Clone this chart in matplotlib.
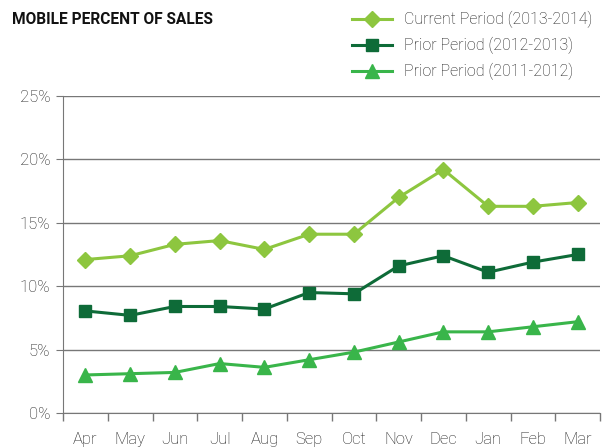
import matplotlib.pyplot as plt
from matplotlib.ticker import FixedLocator, PercentFormatter

months = ["Apr", "May", "Jun", "Jul", "Aug", "Sep", "Oct", "Nov", "Dec", "Jan", "Feb", "Mar"]
current = [12.1, 12.4, 13.3, 13.6, 12.9, 14.1, 14.1, 17.0, 19.2, 16.3, 16.3, 16.6]
prior_1213 = [8.05, 7.7, 8.4, 8.4, 8.2, 9.5, 9.4, 11.6, 12.4, 11.1, 11.9, 12.5]
prior_1112 = [3.0, 3.1, 3.2, 3.9, 3.6, 4.2, 4.8, 5.6, 6.4, 6.4, 6.8, 7.2]

plt.rcParams["font.family"] = ["Roboto", "DejaVu Sans"]
plt.rcParams["font.weight"] = "light"

fig = plt.figure(figsize=(6.04, 4.48), dpi=100)
ax = fig.add_axes([63 / 604, 1 - 413 / 448, 537 / 604, 317 / 448])

x = range(len(months))
ax.plot(x, current, color="#8dc63f", lw=2.2, marker="D", ms=8, label="Current Period (2013-2014)")
ax.plot(x, prior_1213, color="#0e6b38", lw=2.2, marker="s", ms=9, label="Prior Period (2012-2013)")
ax.plot(x, prior_1112, color="#39b54a", lw=2.2, marker="^", ms=10, label="Prior Period (2011-2012)")

ax.set_xlim(-0.5, len(months) - 0.5)
ax.set_ylim(0, 25)
ax.set_yticks(range(0, 26, 5))
ax.yaxis.set_major_formatter(PercentFormatter(decimals=0))
ax.yaxis.grid(True, color="#777777", lw=1)
ax.set_axisbelow(True)

ax.set_xticks(list(x))
ax.set_xticklabels(months)
ax.xaxis.set_minor_locator(FixedLocator([i - 0.5 for i in range(len(months) + 1)]))
ax.tick_params(axis="x", which="major", length=0, pad=14, labelsize=12, labelcolor="#1a1a1a")
ax.tick_params(axis="x", which="minor", length=6, color="#777777", width=1)
ax.tick_params(axis="y", length=5, color="#777777", labelsize=12, labelcolor="#1a1a1a", pad=4)

for s in ["top", "right"]:
    ax.spines[s].set_visible(False)
for s in ["left", "bottom"]:
    ax.spines[s].set_color("#777777")

fig.text(12 / 604, 1 - 20 / 448, "MOBILE PERCENT OF SALES", fontsize=11.2, fontweight="bold",
         va="center", ha="left", color="#111111")

fig.legend(loc="upper right", bbox_to_anchor=(1.0, 1.0), frameon=False, fontsize=11.5,
           labelcolor="#1a1a1a", handlelength=2.5, labelspacing=0.55, borderaxespad=0.3)

fig.savefig("out.png", dpi=100)
